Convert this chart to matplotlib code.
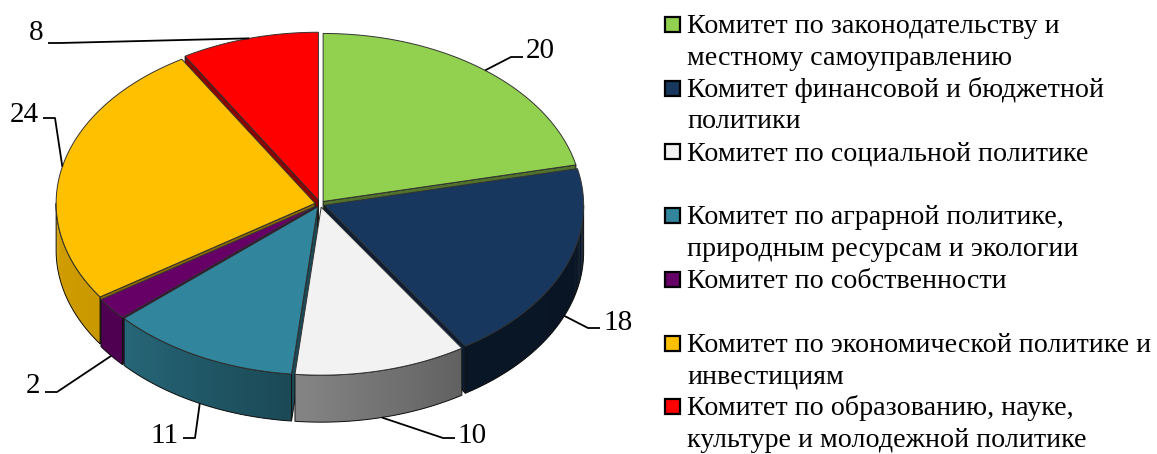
import numpy as np
import matplotlib
matplotlib.use('Agg')
import matplotlib.pyplot as plt
from matplotlib.patches import Polygon, Rectangle
from matplotlib.colors import to_rgb

# ---------------- data ----------------
categories = [
    "Комитет по законодательству и\nместному самоуправлению",
    "Комитет финансовой и бюджетной\nполитики",
    "Комитет по социальной политике",
    "Комитет по аграрной политике,\nприродным ресурсам и экологии",
    "Комитет по собственности",
    "Комитет по экономической политике и\nинвестициям",
    "Комитет по образованию, науке,\nкультуре и молодежной политике",
]
values = [20, 18, 10, 11, 2, 24, 8]
colors = ["#92D050", "#17375E", "#F2F2F2", "#31859C", "#660066", "#FFC000", "#FF0000"]

# ---------------- layout ----------------
W, H = 1157, 454
CX, CY, RX, RY, DEPTH = 320, 204, 259, 168, 47
EXPLODE = [5, 5, 5, 5, 5, 5, 6]
# leader line end points and label text anchors (pixels)
leader_end = [(523, 57), (600, 328), (455, 438), (183, 438), (45, 392), (43, 118), (48, 43)]
text_pos = [(526, 58), (603, 330), (457, 443), (179, 443), (40, 393), (39, 122), (44, 40)]
SERIF = "Liberation Serif"

plt.rcParams['font.family'] = [SERIF, 'DejaVu Serif']
fig = plt.figure(figsize=(W / 100, H / 100), dpi=100)
ax = fig.add_axes([0, 0, 1, 1])
ax.set_xlim(0, W)
ax.set_ylim(H, 0)
ax.axis('off')

total = float(sum(values))
slices = []
a = 90.0
for v, e in zip(values, EXPLODE):
    span = 360.0 * v / total
    a1, a2 = a, a - span
    m = 0.5 * (a1 + a2)
    mr = np.radians(m)
    ex, ey = e * np.cos(mr), -e * np.sin(mr) * RY / RX
    slices.append((a1, a2, m, ex, ey))
    a = a2


def rim(t, ex, ey, dz=0.0):
    r = np.radians(t)
    return (CX + ex + RX * np.cos(r), CY + ey - RY * np.sin(r) + dz)


def shade(t):
    return np.interp(t, [-180, -140, -96, -57, 0], [0.83, 0.78, 0.55, 0.40, 0.38])


def scale(c, f):
    r, g, b = to_rgb(c)
    return (r * f, g * f, b * f)


walls = []  # (key, list of (poly, color)), outline poly
for (a1, a2, m, ex, ey), c in zip(slices, colors):
    apex = (CX + ex, CY + ey)
    # radial walls
    for t, vis in ((a1, np.cos(np.radians(a1)) < -1e-6), (a2, np.cos(np.radians(a2)) > 1e-6)):
        if vis:
            p = rim(t, ex, ey)
            poly = [apex, p, (p[0], p[1] + DEPTH), (apex[0], apex[1] + DEPTH)]
            key = np.mean([q[1] for q in poly])
            walls.append((key, [(poly, scale(c, 0.55))], poly))
    # outer wall (front half)
    lo, hi = max(a2, -180.0), min(a1, 0.0)
    if hi > lo:
        n = max(2, int((hi - lo) / 1.0))
        ts = np.linspace(hi, lo, n + 1)
        step = ts[0] - ts[1]
        segs = []
        for k, (t0, t1) in enumerate(zip(ts[:-1], ts[1:])):
            t1e = max(lo, t1 - 0.6 * step)
            sub = np.linspace(t0, t1e, 4)
            top = [rim(t, ex, ey) for t in sub]
            bot = [rim(t, ex, ey, DEPTH) for t in sub[::-1]]
            segs.append((top + bot, scale(c, shade(0.5 * (t0 + t1)))))
        top = [rim(t, ex, ey) for t in np.linspace(hi, lo, 4 * n + 1)]
        bot = [rim(t, ex, ey, DEPTH) for t in np.linspace(lo, hi, 4 * n + 1)]
        outline = top + bot
        key = np.mean([q[1] for q in outline]) + 40
        walls.append((key, segs, outline))

walls.sort(key=lambda w: w[0])
z = 1
for key, segs, outline in walls:
    for poly, col in segs:
        ax.add_patch(Polygon(poly, closed=True, facecolor=col, edgecolor='none', lw=0, zorder=z))
    ax.add_patch(Polygon(outline, closed=True, facecolor='none', edgecolor='#101010', lw=0.7, zorder=z + 0.5))
    z += 1

# top faces
for (a1, a2, m, ex, ey), c in zip(slices, colors):
    n = max(3, int(abs(a1 - a2)))
    pts = [(CX + ex, CY + ey)] + [rim(t, ex, ey) for t in np.linspace(a1, a2, n + 1)]
    ax.add_patch(Polygon(pts, closed=True, facecolor=c, edgecolor='#333333', lw=0.7, zorder=50))

# data labels with leader lines
for (a1, a2, m, ex, ey), v, le, tp in zip(slices, values, leader_end, text_pos):
    dz = DEPTH if np.sin(np.radians(m)) < 0 else 0.0
    anc = rim(m, ex, ey, dz)
    left_side = tp[0] < CX
    elbow = (le[0] + (12 if left_side else -12), le[1])
    ax.plot([anc[0], elbow[0], le[0]], [anc[1], elbow[1], le[1]], color='black', lw=1.3, zorder=60,
            solid_capstyle='butt')
    ax.text(tp[0], tp[1], str(v), ha='right' if left_side else 'left', va='baseline',
            fontsize=21, family=SERIF, color='black', zorder=61)

# legend
LX_BOX, LX_TEXT, LY0, ITEM_DY, LINE_DY, BOX = 665, 687, 33, 63.7, 31.8, 15
for i, (lab, c) in enumerate(zip(categories, colors)):
    base = LY0 + i * ITEM_DY
    ax.add_patch(Rectangle((LX_BOX, base - 16), BOX, BOX, facecolor=c, edgecolor='black', lw=1.6, zorder=70))
    for j, line in enumerate(lab.split("\n")):
        ax.text(LX_TEXT, base + j * LINE_DY, line, ha='left', va='baseline', fontsize=20.2,
                family=SERIF, color='black', zorder=70)

fig.savefig("out.png", dpi=100)
